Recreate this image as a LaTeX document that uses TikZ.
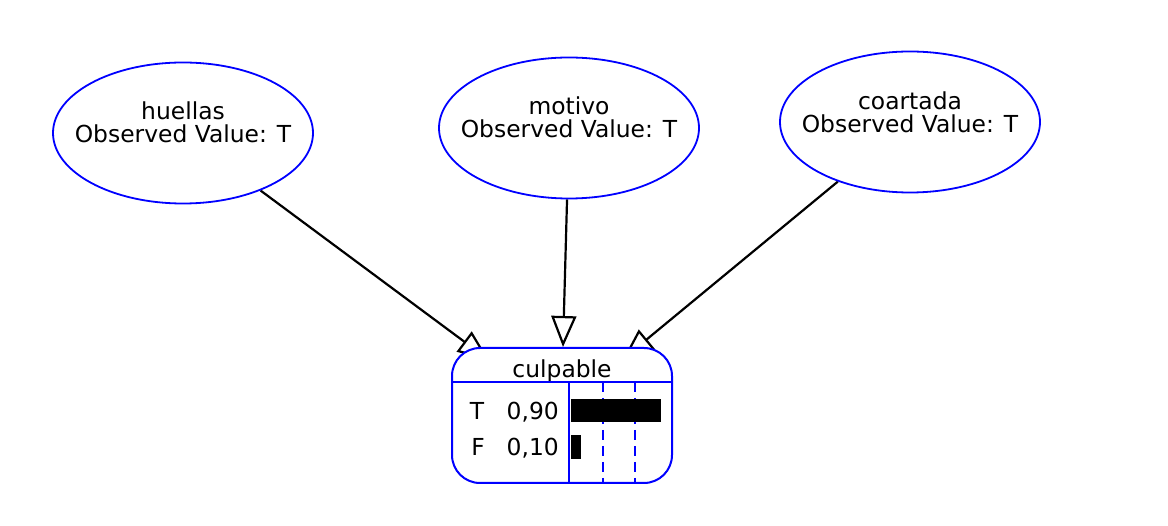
\documentclass[tikz,border=0pt]{standalone}
\usepackage{fontspec}
\setmainfont{DejaVu Sans}
\usetikzlibrary{shapes.geometric,arrows.meta,calc}
\pgfdeclarelayer{bg}
\pgfsetlayers{bg,main}
\definecolor{nodeblue}{RGB}{0,0,255}
\begin{document}
\begin{tikzpicture}[x=1pt,y=-1pt,
  obs/.style={ellipse, draw=nodeblue, line width=1.8pt, minimum width=260pt, minimum height=141pt, inner sep=0pt},
  lbl/.style={anchor=base, inner sep=0pt, font=\fontsize{23.4}{23.4}\selectfont},
  edge/.style={draw=black, line width=2.2pt, -{Triangle[open, length=31pt, width=25pt]}},
  boxline/.style={color=nodeblue, line width=2pt},
  dashline/.style={color=nodeblue, line width=2pt, dash pattern=on 10pt off 6pt},
  bar/.style={fill=black, draw=none}]
\useasboundingbox (0,0) rectangle (1168,526);

% observed nodes
\node[obs] (huellas) at (183,133) {};
\node[lbl] (huellasA) at (183,120) {huellas};
\node[lbl] (huellasB) at (183,143) {Observed Value: T};

\node[obs] (motivo) at (569,128) {};
\node[lbl] (motivoA) at (569,115) {motivo};
\node[lbl] (motivoB) at (569,138) {Observed Value: T};

\node[obs] (coartada) at (910,122) {};
\node[lbl] (coartadaA) at (910,110) {coartada};
\node[lbl] (coartadaB) at (910,133) {Observed Value: T};

% culpable box
\node[draw=nodeblue, line width=2pt, fill=white, rounded corners=28pt, minimum width=220pt, minimum height=135pt, inner sep=0pt] (culp) at (562,415.5) {};
\node[lbl] (culpT) at (562,378) {culpable};
\draw[boxline] ($(culp.north west)+(0,35)$) -- ($(culp.north east)+(0,35)$);
\draw[boxline] ($(culp.north west)+(118,35)$) -- ($(culp.south west)+(118,0)$);
\draw[dashline] ($(culp.north west)+(152,35)$) -- ($(culp.south west)+(152,0)$);
\draw[dashline] ($(culp.north west)+(184,35)$) -- ($(culp.south west)+(184,0)$);
\fill[bar] ($(culp.north west)+(120,52)$) rectangle ($(culp.north west)+(210,75)$);
\fill[bar] ($(culp.north west)+(120,88)$) rectangle ($(culp.north west)+(130,112)$);
\node[lbl] (rowT) at (477,420) {T};
\node[lbl, anchor=base east] (valT) at (559,420) {0,90};
\node[lbl] (rowF) at (478,456) {F};
\node[lbl, anchor=base east] (valF) at (559,456) {0,10};

% edges (behind the box)
\begin{pgfonlayer}{bg}
\draw[edge] (huellas) -- ($(culp.north west)+(38,13)$);
\draw[edge] (motivo) -- ($(culp.north)+(1,0)$);
\draw[edge] (coartada) -- ($(culp.north west)+(172,12)$);
\end{pgfonlayer}
\end{tikzpicture}
\end{document}
